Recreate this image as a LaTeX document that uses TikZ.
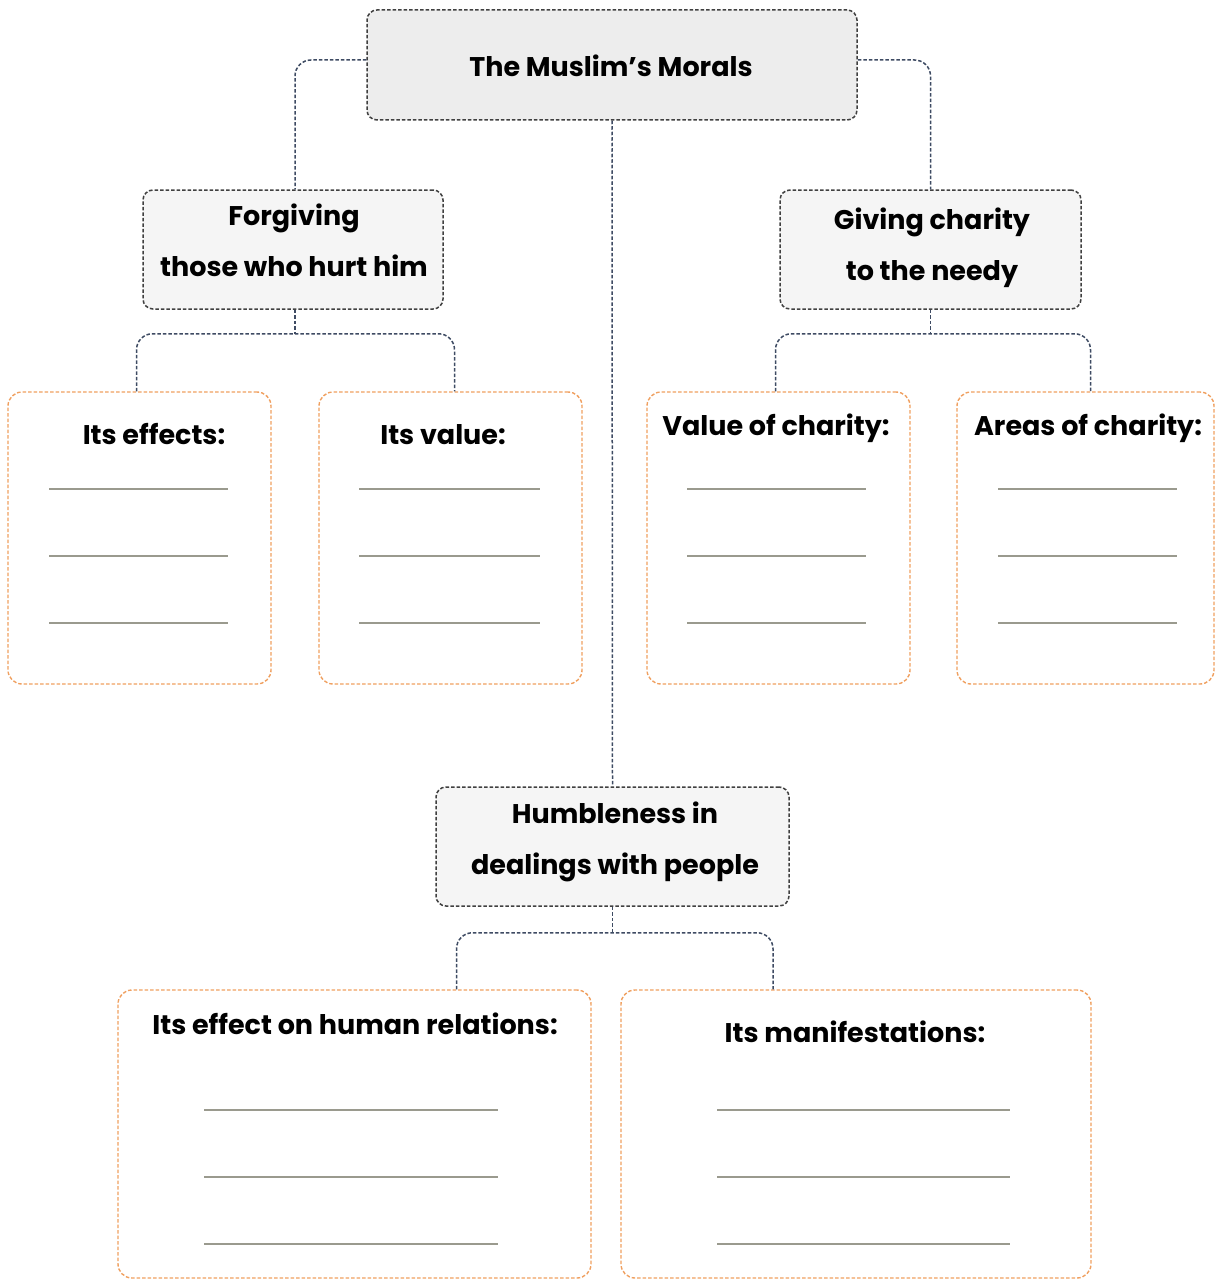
\documentclass[tikz,border=0pt]{standalone}
\usepackage{fontspec}
\setmainfont{Poppins}
\usepackage{tikz}
\usetikzlibrary{positioning}

\definecolor{boxline}{HTML}{404040}
\definecolor{linkline}{HTML}{3E4B63}
\definecolor{fieldline}{HTML}{F0A060}
\definecolor{ruleline}{HTML}{9A9A8E}

\tikzset{
  topic/.style={draw=boxline, dash pattern=on 3.5pt off 2pt, line width=1.5pt, rounded corners=10pt, fill=black!7},
  branch/.style={draw=boxline, dash pattern=on 3.5pt off 2pt, line width=1.5pt, rounded corners=10pt, fill=black!4},
  field/.style={draw=fieldline, dash pattern=on 3.5pt off 2pt, line width=1.4pt, rounded corners=14pt},
  link/.style={draw=linkline, dash pattern=on 3.5pt off 2pt, line width=1.5pt, rounded corners=16pt},
  rule/.style={draw=ruleline, line width=1.2pt},
  heading/.style={font=\fontsize{27}{51}\selectfont\bfseries, anchor=base, inner sep=0pt},
  caption/.style={font=\fontsize{27}{51}\selectfont\bfseries, align=center, inner sep=0pt}
}

\begin{document}
\begin{tikzpicture}[x=1pt,y=-1pt]
    \clip (0,0) rectangle (1215,1279);
    \fill[white] (0,0) rectangle (1215,1279);

    %Rounded Rect: main topic
    \node[topic, minimum width=490, minimum height=110] (main) at (612,65) {};
    % Text Node
    \node[heading] (maintxt) at (611,77) {The Muslim’s Morals};

    %Rounded Rect: branches
    \node[branch, minimum width=300, minimum height=119] (forg) at (293,249.5) {};
    \node[branch, minimum width=301, minimum height=119] (give) at (930.5,249.5) {};
    \node[branch, minimum width=353, minimum height=119] (humb) at (612.5,846.5) {};
    % Text Node
    \node[caption] (forgtxt) at (294,240.5) {Forgiving\\those who hurt him};
    \node[caption] (givetxt) at (932,247.5) {Giving charity\\to the needy};
    \node[caption] (humbtxt) at (615,841.5) {Humbleness in\\dealings with people};

    %Rounded Rect: fields to fill
    \node[field, minimum width=263, minimum height=292] (eff) at (139.5,538) {};
    \node[field, minimum width=263, minimum height=292] (val) at (450.5,538) {};
    \node[field, minimum width=263, minimum height=292] (vch) at (778.5,538) {};
    \node[field, minimum width=257, minimum height=292] (area) at (1085.5,538) {};
    \node[field, minimum width=473, minimum height=288] (rel) at (354.5,1134) {};
    \node[field, minimum width=470, minimum height=288] (man) at (856,1134) {};

    % Text Node
    \node[heading] (efftxt) at (154,444) {Its effects:};
    \node[heading] (valtxt) at (443,444) {Its value:};
    \node[heading] (vchtxt) at (776,435) {Value of charity:};
    \node[heading] (areatxt) at (1088,435) {Areas of charity:};
    \node[heading] (reltxt) at (355,1034) {Its effect on human relations:};
    \node[heading] (mantxt) at (855,1042) {Its manifestations:};

    %Connectors
    \draw[link] ([yshift=5]main.west) -| ([xshift=2]forg.north);
    \draw[link] ([yshift=5]main.east) -| (give.north);
    \draw[link] (main.south) -- (humb.north);

    \draw[link] ([xshift=2]forg.south) -- ++(0,24) coordinate (fj);
    \draw[link] ([xshift=-3]eff.north) |- (fj) -| ([xshift=4]val.north);
    \draw[link] (give.south) -- ++(0,24) coordinate (gj);
    \draw[link] ([xshift=-3]vch.north) |- (gj) -| ([xshift=5]area.north);
    \draw[link] (humb.south) -- ++(0,26) coordinate (hj);
    \draw[link] ([xshift=102]rel.north) |- (hj) -| ([xshift=-83]man.north);

    %Writing lines
    \foreach \y in {489,556,623} {
      \draw[rule] (49,\y) -- (228,\y);
      \draw[rule] (359,\y) -- (540,\y);
      \draw[rule] (687,\y) -- (866,\y);
      \draw[rule] (998,\y) -- (1177,\y);
    }
    \foreach \y in {1110,1177,1244} {
      \draw[rule] (204,\y) -- (498,\y);
      \draw[rule] (717,\y) -- (1010,\y);
    }
\end{tikzpicture}
\end{document}
